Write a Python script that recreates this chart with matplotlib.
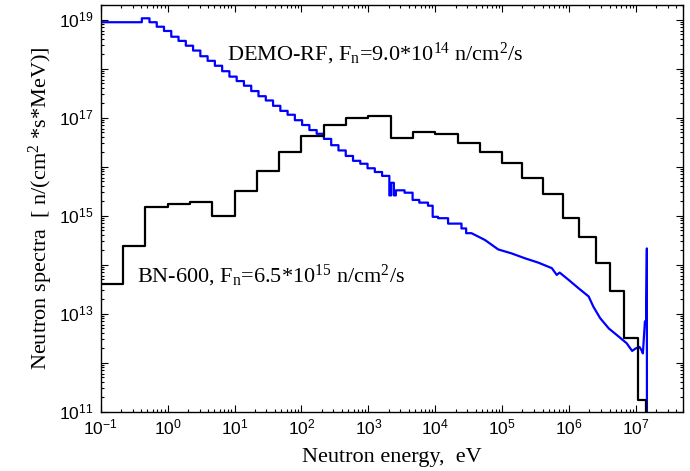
import numpy as np
import matplotlib
matplotlib.use("Agg")
import matplotlib.pyplot as plt
from matplotlib.ticker import LogLocator, FixedLocator, NullFormatter, FuncFormatter

plt.rcParams['font.family'] = 'Liberation Serif'
plt.rcParams['mathtext.fontset'] = 'custom'
plt.rcParams['mathtext.rm'] = 'Liberation Serif'
plt.rcParams['mathtext.sf'] = 'Liberation Sans'
plt.rcParams['mathtext.default'] = 'rm'

# BN-600 spectrum in ABBN groups (edges in eV, flux per group)
bn_edges = [0.1, 0.215, 0.465, 1.0, 2.15, 4.65, 10, 21.5, 46.5, 100, 215, 465,
            1e3, 2.15e3, 4.65e3, 1e4, 2.15e4, 4.65e4, 1e5, 2e5, 4e5, 8e5,
            1.4e6, 2.5e6, 4e6, 6.5e6, 1.05e7, 1.4e7, 2e7]
bn_flux = [4.1e13, 2.4e14, 1.5e15, 1.7e15, 1.95e15, 9.8e14, 3.2e15, 8.3e15,
           2.0e16, 4.2e16, 7.2e16, 1.0e17, 1.1e17, 3.9e16, 5.2e16, 4.7e16,
           3.1e16, 2.0e16, 1.2e16, 5.9e15, 2.8e15, 9.1e14, 3.7e14, 1.1e14,
           2.9e13, 3.2e12, 1.7e11, 1e8]

# DEMO-RF spectrum, low-energy part in fine groups
demo_edges = [0.1, 0.412, 0.536, 0.688, 0.883, 1.134, 1.456, 1.870, 2.401,
              3.083, 3.96, 5.08, 6.53, 8.38, 10.76, 13.82, 17.75, 22.8, 29.3,
              37.6, 48.3, 62.0, 79.6, 102.2, 131.2, 168.5, 216.4, 277.9, 356.8,
              458.2, 588.4, 755.5, 970, 1246, 1600, 2054, 2188, 2399, 2570,
              3467, 4571, 5754, 7762, 9120, 1.096e4, 1.549e4, 2.455e4,
              2.884e4, 3.467e4]
demo_flux = [8.9e18, 1.07e19, 8.9e18, 7.2e18, 5.9e18, 4.5e18, 3.7e18, 2.95e18,
             2.35e18, 1.8e18, 1.45e18, 1.15e18, 8.9e17, 6.9e17, 5.6e17, 4.5e17,
             3.5e17, 2.75e17, 2.25e17, 1.75e17, 1.38e17, 1.15e17, 8.9e16,
             7.1e16, 5.6e16, 4.7e16, 3.7e16, 2.75e16, 2.15e16, 1.66e16, 1.32e16,
             1.15e16, 9.3e15, 7.8e15, 6.5e15, 2.6e15, 4.7e15, 2.6e15, 3.3e15,
             2.95e15, 2.1e15, 1.85e15, 1.6e15, 9.5e14, 8.9e14, 6.9e14, 5.5e14,
             4.4e14]

# DEMO-RF high-energy part (eV, flux), ending with the 14 MeV peak
demo_hi_e = [3.467e4, 5.5e4, 8.7e4, 1.38e5, 2.19e5, 3.47e5, 5.5e5, 6.5e5, 7.2e5,
             9.8e5, 1.38e6, 1.95e6, 2.3e6, 2.9e6, 3.9e6, 5.5e6, 7.2e6, 8.7e6,
             9.8e6, 1.12e7, 1.2e7, 1.26e7, 1.35e7, 1.41e7, 1.445e7, 1.45e7]
demo_hi_flux = [4.4e14, 3.2e14, 2.05e14, 1.7e14, 1.35e14, 1.1e14, 8.5e13,
                6.2e13, 6.9e13, 4.9e13, 3.3e13, 2.25e13, 1.38e13, 8.1e12,
                5.0e12, 3.4e12, 2.5e12, 1.74e12, 1.95e12, 2.1e12, 1.8e12,
                1.55e12, 6.9e12, 7.4e12, 2.15e14, 1e8]

demo_label = r'DEMO-RF, F$_{\rm n}$=9.0*10$^{14}$ n/cm$^{2}$/s'
bn_label = r'BN-600, F$_{\rm n}$=6.5*10$^{15}$ n/cm$^{2}$/s'


def stair_xy(edges, vals):
    x = np.repeat(np.asarray(edges, float), 2)[1:-1]
    y = np.repeat(np.asarray(vals, float), 2)
    return x, y


fig = plt.figure(figsize=(6.9, 4.71), dpi=100)
ax = fig.add_axes([0.1459, 0.1259, 0.8439, 0.8635])

# blue line: group steps, then the pointwise tail
sx, sy = stair_xy(demo_edges, demo_flux)
dx = np.concatenate([[demo_edges[0]], sx, demo_hi_e[1:]])
dy = np.concatenate([[1e20], sy, demo_hi_flux[1:]])
ax.plot(dx, dy, color='#0000ff', lw=1.6)

bx, by = stair_xy(bn_edges, bn_flux)
ax.plot(bx, by, color='black', lw=1.6)

ax.set_xscale('log')
ax.set_yscale('log')
ax.set_xlim(0.1, 5e7)
ax.set_ylim(1e11, 2e19)

sup = lambda v, p: r'$\mathsf{10^{%d}}$' % round(np.log10(v))
ax.xaxis.set_major_locator(FixedLocator([10.0 ** k for k in range(-1, 8)]))
ax.xaxis.set_major_formatter(FuncFormatter(sup))
ax.yaxis.set_major_locator(FixedLocator([10.0 ** k for k in range(11, 20)]))
ax.yaxis.set_major_formatter(FuncFormatter(
    lambda v, p: sup(v, p) if round(np.log10(v)) % 2 == 1 else ''))
for axis in (ax.xaxis, ax.yaxis):
    axis.set_minor_locator(LogLocator(base=10, subs=range(2, 10), numticks=100))
    axis.set_minor_formatter(NullFormatter())

ax.tick_params(which='both', direction='in', top=True, right=True,
               width=0.8, labelsize=12.5)
ax.tick_params(which='major', length=5, pad=5)
ax.tick_params(which='minor', length=2.5)
for s in ax.spines.values():
    s.set_linewidth(1.0)

ax.set_xlabel('Neutron energy,  eV', fontsize=16)
ax.set_ylabel(r'Neutron spectra  [ n/(cm$^{2}$ *s*MeV)]', fontsize=16)
ax.xaxis.set_label_coords(0.5, -0.09)
ax.yaxis.set_label_coords(-0.078, 0.5)

ax.text(7.6, 1.5e18, demo_label, fontsize=16, va='baseline')
ax.text(0.35, 4.3e13, bn_label, fontsize=16, va='baseline')

fig.savefig('out.png', dpi=100)
